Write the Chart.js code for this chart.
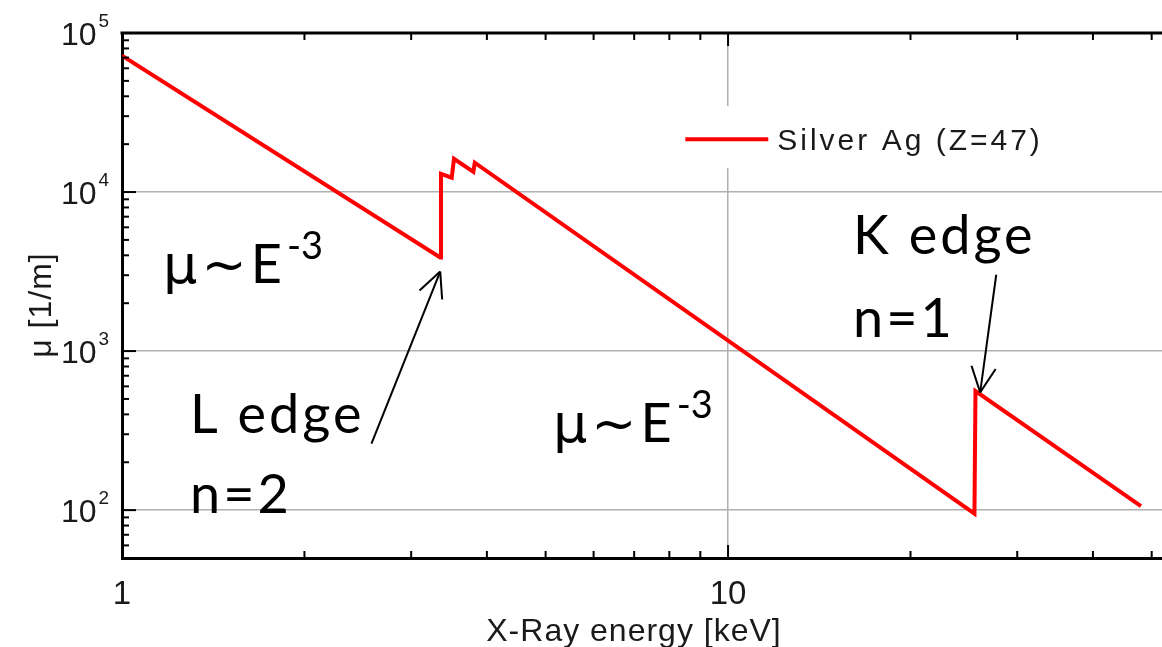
<!DOCTYPE html>
<html>
<head>
<meta charset="utf-8">
<title>Silver X-ray attenuation</title>
<script src="https://cdn.jsdelivr.net/npm/chart.js@4.4.1/dist/chart.umd.min.js"></script>
<style>
    html, body { margin: 0; padding: 0; background: #fff; }
    #chartWrap { position: relative; width: 1162px; height: 647px; }
</style>
</head>
<body>
<div id="chartWrap"><canvas id="muChart"></canvas></div>
<script>
// Silver Ag (Z=47) attenuation coefficient
const energyKeV = [1, 3.35, 3.36, 3.50, 3.53, 3.80, 3.82, 25.5, 25.6, 48];
const muPerMetre = [72000, 3880, 13000, 12300, 16200, 13400, 15300, 95, 560, 106];

// Axis ranges and tick values
const xRange = [1, 52];
const yRange = [50, 100000];
const xMajorTicks = [1, 10];
const xTickLabels = ['1', '10'];
const xMinorTicks = [2, 3, 4, 5, 6, 7, 8, 9, 20, 30, 40, 50];
const yMajorTicks = [100, 1000, 10000, 100000];
const yTickExponents = ['2', '3', '4', '5'];
const yMinorTicks = [
    60, 70, 80, 90,
    200, 300, 400, 500, 600, 700, 800, 900,
    2000, 3000, 4000, 5000, 6000, 7000, 8000, 9000,
    20000, 30000, 40000, 50000, 60000, 70000, 80000, 90000
];

const seriesLabel = 'Silver Ag (Z=47)';
const xTitle = 'X-Ray energy [keV]';
const yTitle = 'μ [1/m]';

// Annotation texts, anchored at data coordinates (left edge, baseline)
const noteTexts = ['μ~E', 'L edge', 'n=2', 'μ~E', 'K edge', 'n=1'];
const noteSups = ['-3', '', '', '-3', '', ''];
const noteX = [1.169, 1.295, 1.295, 5.14, 16.08, 16.08];
const noteY = [2690, 307, 95.7, 269, 4060, 1227];

// Arrows pointing at the absorption edges (tail -> tip)
const arrowTailX = [2.58, 27.7];
const arrowTailY = [262, 3020];
const arrowTipX = [3.35, 26.06];
const arrowTipY = [3160, 550];

const COLORS = {
    line: '#ff0000',
    grid: '#b0b0b0',
    frame: '#000000',
    text: '#1a1a1a'
};

const NOTE_FONT = '54px Lato, "Open Sans", sans-serif';
const SYMBOL_FONT = '54px "DejaVu Sans", sans-serif';
const SUP_FONT = '38px Lato, "Open Sans", sans-serif';

/**
 * Whether a value sits on a power of ten
 * @param {number} v
 * @returns {boolean}
 */
function isDecade(v) {
    const l = Math.log10(v);
    return Math.abs(l - Math.round(l)) < 1e-9;
}

/**
 * Draw text followed by a raised exponent
 */
function drawWithSup(ctx, base, sup, x, y, font, supFont, rise) {
    ctx.font = font;
    ctx.fillText(base, x, y);
    const w = ctx.measureText(base).width;
    if (sup) {
        ctx.font = supFont;
        ctx.fillText(sup, x + w + 2, y - rise);
    }
}

/**
 * Draw a power-law note like "μ~E⁻³", symbols in a wider face
 */
function drawPowerLaw(ctx, base, sup, x, y) {
    let cx = x;
    [...base].forEach(ch => {
        ctx.font = 'μ~'.includes(ch) ? SYMBOL_FONT : NOTE_FONT;
        ctx.fillText(ch, cx, y);
        cx += ctx.measureText(ch).width + 4;
    });
    ctx.font = SUP_FONT;
    ctx.fillText(sup, cx + 1, y - 24);
}

function strokeLine(ctx, x1, y1, x2, y2) {
    ctx.beginPath();
    ctx.moveTo(x1, y1);
    ctx.lineTo(x2, y2);
    ctx.stroke();
}

// Frame, inward ticks, labels, annotations and legend
const decorPlugin = {
    id: 'plotDecor',
    afterDraw(chart) {
        const { ctx, chartArea: area, scales } = chart;
        const xs = scales.x;
        const ys = scales.y;
        ctx.save();

        // top frame line
        ctx.strokeStyle = COLORS.frame;
        ctx.lineWidth = 3;
        strokeLine(ctx, area.left - 1.5, area.top, area.right, area.top);

        // inward tick marks
        ctx.lineWidth = 2;
        xMajorTicks.forEach(v => {
            const px = xs.getPixelForValue(v);
            strokeLine(ctx, px, area.bottom, px, area.bottom - 13);
            strokeLine(ctx, px, area.top, px, area.top + 13);
        });
        xMinorTicks.forEach(v => {
            const px = xs.getPixelForValue(v);
            strokeLine(ctx, px, area.bottom, px, area.bottom - 7);
            strokeLine(ctx, px, area.top, px, area.top + 7);
        });
        yMajorTicks.forEach(v => {
            const py = ys.getPixelForValue(v);
            strokeLine(ctx, area.left, py, area.left + 14, py);
        });
        yMinorTicks.forEach(v => {
            const py = ys.getPixelForValue(v);
            strokeLine(ctx, area.left, py, area.left + 7, py);
        });

        // tick labels
        ctx.fillStyle = COLORS.text;
        ctx.textBaseline = 'middle';
        ctx.textAlign = 'center';
        ctx.font = '33px "Liberation Sans", Arial, sans-serif';
        xMajorTicks.forEach((v, i) => {
            ctx.fillText(xTickLabels[i], xs.getPixelForValue(v), area.bottom + 37);
        });
        ctx.textAlign = 'left';
        ctx.textBaseline = 'alphabetic';
        yMajorTicks.forEach((v, i) => {
            const py = ys.getPixelForValue(v);
            drawWithSup(ctx, '10', yTickExponents[i], 61, py + 12,
                '32px "Liberation Sans", Arial, sans-serif',
                '19px "Liberation Sans", Arial, sans-serif', 18);
        });

        // axis titles
        ctx.textAlign = 'center';
        ctx.textBaseline = 'middle';
        ctx.font = '32px "Liberation Sans", Arial, sans-serif';
        ctx.letterSpacing = '1px';
        ctx.fillText(xTitle, (area.left + area.right) / 2 - 8, 632);
        ctx.save();
        ctx.translate(42, 305);
        ctx.rotate(-Math.PI / 2);
        ctx.font = '32px "Liberation Sans", Arial, sans-serif';
        ctx.fillText(yTitle, 0, 0);
        ctx.restore();
        ctx.letterSpacing = '0px';

        // annotations
        ctx.fillStyle = '#000';
        ctx.textAlign = 'left';
        ctx.textBaseline = 'alphabetic';
        noteTexts.forEach((t, i) => {
            const px = xs.getPixelForValue(noteX[i]);
            const py = ys.getPixelForValue(noteY[i]);
            if (noteSups[i]) {
                drawPowerLaw(ctx, t, noteSups[i], px, py);
            } else {
                ctx.letterSpacing = '3px';
                ctx.font = NOTE_FONT;
                ctx.fillText(t, px, py);
                ctx.letterSpacing = '0px';
            }
        });

        // arrows
        ctx.strokeStyle = '#000';
        ctx.lineWidth = 2;
        arrowTipX.forEach((v, i) => {
            const tx = xs.getPixelForValue(v);
            const ty = ys.getPixelForValue(arrowTipY[i]);
            const fx = xs.getPixelForValue(arrowTailX[i]);
            const fy = ys.getPixelForValue(arrowTailY[i]);
            strokeLine(ctx, fx, fy, tx, ty);
            const ang = Math.atan2(ty - fy, tx - fx);
            [-0.45, 0.45].forEach(d => {
                strokeLine(ctx, tx, ty,
                    tx - 28 * Math.cos(ang + d), ty - 28 * Math.sin(ang + d));
            });
        });

        // legend inside the plot
        const lx = xs.getPixelForValue(8.5);
        const ly = ys.getPixelForValue(20000) - 5;
        ctx.fillStyle = '#fff';
        ctx.fillRect(lx - 25, ly - 33, 400, 62);
        ctx.strokeStyle = COLORS.line;
        ctx.lineWidth = 4;
        strokeLine(ctx, lx, ly, lx + 83, ly);
        ctx.fillStyle = COLORS.text;
        ctx.textBaseline = 'middle';
        ctx.font = '30px "Liberation Sans", Arial, sans-serif';
        ctx.letterSpacing = '3px';
        ctx.fillText(seriesLabel, lx + 92, ly + 3);
        ctx.letterSpacing = '0px';

        ctx.restore();
    }
};

function createMuChart(canvasId) {
    const ctx = document.getElementById(canvasId);
    return new Chart(ctx, {
        type: 'line',
        data: {
            datasets: [{
                label: seriesLabel,
                data: energyKeV.map((e, i) => ({ x: e, y: muPerMetre[i] })),
                borderColor: COLORS.line,
                borderWidth: 4,
                pointRadius: 0,
                tension: 0,
                fill: false
            }]
        },
        options: {
            responsive: true,
            maintainAspectRatio: false,
            animation: false,
            layout: { padding: { left: 122, top: 33, right: 0, bottom: 89 } },
            plugins: {
                legend: { display: false },
                tooltip: { enabled: false }
            },
            scales: {
                x: {
                    type: 'logarithmic',
                    min: xRange[0],
                    max: xRange[1],
                    ticks: { display: false },
                    grid: {
                        drawTicks: false,
                        lineWidth: 1.5,
                        color: c => (c.tick && isDecade(c.tick.value) ? COLORS.grid : 'transparent')
                    },
                    border: { display: true, color: COLORS.frame, width: 3 }
                },
                y: {
                    type: 'logarithmic',
                    min: yRange[0],
                    max: yRange[1],
                    ticks: { display: false },
                    grid: {
                        drawTicks: false,
                        lineWidth: 1.5,
                        color: c => (c.tick && isDecade(c.tick.value) ? COLORS.grid : 'transparent')
                    },
                    border: { display: true, color: COLORS.frame, width: 3 }
                }
            }
        },
        plugins: [decorPlugin]
    });
}

document.addEventListener('DOMContentLoaded', () => createMuChart('muChart'));
</script>
</body>
</html>
